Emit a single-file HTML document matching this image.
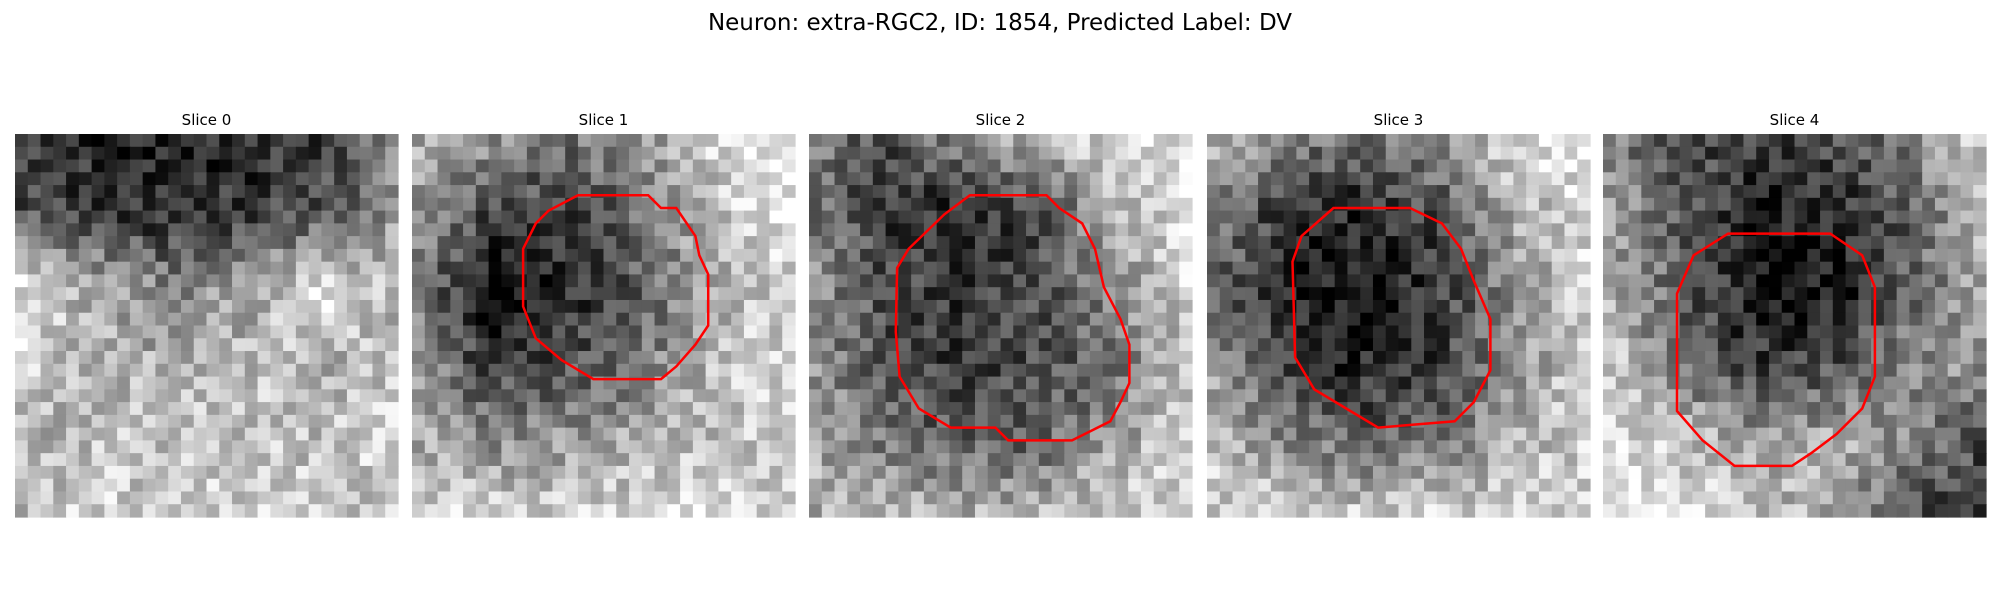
<!DOCTYPE html>
<html><head><meta charset="utf-8"><style>
html,body{margin:0;padding:0;background:#fff;width:2000px;height:600px;overflow:hidden}
svg{display:block}
text{font-family:"DejaVu Sans","Liberation Sans",sans-serif;fill:#000}
</style></head><body>
<svg id="fig" width="2000" height="600" viewBox="0 0 2000 600">
<text x="1000" y="30" text-anchor="middle" font-size="23">Neuron: extra-RGC2, ID: 1854, Predicted Label: DV</text>
</svg>
<script>
const sliceLabels=["Slice 0","Slice 1","Slice 2","Slice 3","Slice 4"];
const panelLeft=[15,412,809,1207,1603];
const coarse0=[[.3,.25,.25,.25,.3,.5],[.35,.3,.25,.3,.35,.55],[.75,.6,.5,.55,.75,.6],[.7,.6,.6,.65,.6,.65],[.6,.65,.65,.65,.65,.7],[.6,.7,.65,.7,.65,.65]];
const coarse1=[[.6,.55,.45,.55,.7,.75],[.55,.35,.3,.45,.65,.75],[.5,.2,.25,.4,.6,.7],[.55,.3,.35,.45,.65,.7],[.6,.5,.55,.6,.65,.7],[.7,.7,.7,.7,.7,.7]];
const coarse2=[[.5,.35,.5,.65,.7,.75],[.45,.3,.25,.35,.6,.75],[.55,.35,.3,.35,.5,.7],[.55,.35,.3,.35,.45,.65],[.6,.45,.4,.4,.55,.7],[.6,.65,.6,.65,.7,.7]];
const coarse3=[[.65,.5,.45,.55,.7,.75],[.5,.3,.25,.35,.6,.7],[.45,.25,.2,.3,.5,.7],[.55,.3,.25,.3,.5,.7],[.65,.5,.4,.45,.6,.7],[.7,.7,.7,.7,.7,.65]];
const coarse4=[[.5,.35,.3,.35,.5,.7],[.55,.4,.25,.25,.4,.65],[.6,.4,.2,.2,.4,.6],[.7,.45,.3,.35,.5,.55],[.75,.65,.55,.6,.5,.35],[.75,.75,.65,.6,.35,.25]];
const coarseMaps=[coarse0,coarse1,coarse2,coarse3,coarse4];
const contour1=[[453,153],[508,153],[518,163],[530,163],[545,185],[548,200],[555,215],[555,255],[545,270],[530,287],[518,297],[465,297],[440,282],[420,265],[410,240],[410,195],[420,175],[430,165]];
const contour2=[[760,153],[820,153],[830,163],[848,175],[858,195],[865,225],[878,250],[885,270],[885,300],[878,315],[870,330],[840,345],[790,345],[780,335],[745,335],[720,320],[705,295],[702,260],[703,210],[712,195],[740,168]];
const contour3=[[1045,163],[1105,163],[1130,175],[1145,195],[1155,220],[1168,250],[1168,290],[1155,315],[1140,330],[1080,335],[1055,320],[1030,305],[1015,280],[1013,205],[1020,185]];
const contour4=[[1355,183],[1435,183],[1460,200],[1470,225],[1470,295],[1460,320],[1440,340],[1420,355],[1405,365],[1360,365],[1335,345],[1315,322],[1315,230],[1328,200]];
const contours=[null,contour1,contour2,contour3,contour4];
const dispLeft=[12,323,634,946,1257];

const NS="http://www.w3.org/2000/svg";
const svg=document.getElementById('fig');
const PW=383, PT=134, N=30, cs=PW/N;
function hash(a,b,c){let h=(a*374761393+b*668265263+c*2147483647)>>>0;h=((h^(h>>>13))*1274126177)>>>0;return ((h^(h>>>16))>>>0)/4294967296;}
function sample(m,u,v){const x=u*5,y=v*5;const i=Math.min(4,Math.floor(x)),j=Math.min(4,Math.floor(y));const fx=x-i,fy=y-j;
return m[j][i]*(1-fx)*(1-fy)+m[j][i+1]*fx*(1-fy)+m[j+1][i]*(1-fx)*fy+m[j+1][i+1]*fx*fy;}
for(let p=0;p<5;p++){
  const g=document.createElementNS(NS,'g');
  
  
  svg.appendChild(g);
  const t=document.createElementNS(NS,'text');
  
  
  t.setAttribute('x',panelLeft[p]+PW/2);t.setAttribute('y',125);t.setAttribute('text-anchor','middle');t.setAttribute('font-size','15');
  t.textContent=sliceLabels[p];g.appendChild(t);
  for(let r=0;r<N;r++)for(let c=0;c<N;c++){
    let v=sample(coarseMaps[p],(c+0.5)/N,(r+0.5)/N);
    v=(v-0.48)*1.55+0.5+(hash(p+1,r,c)-0.5)*0.36;
    v=Math.max(0,Math.min(1,v));const k=Math.round(v*255);
    const rc=document.createElementNS(NS,'rect');
    
    
    rc.setAttribute('x',(panelLeft[p]+c*cs).toFixed(2));rc.setAttribute('y',(PT+r*cs).toFixed(2));
    rc.setAttribute('width',(cs+0.6).toFixed(2));rc.setAttribute('height',(cs+0.6).toFixed(2));
    rc.setAttribute('fill','rgb('+k+','+k+','+k+')');g.appendChild(rc);
  }
  if(contours[p]){
    const pts=contours[p].map(q=>((q[0]-dispLeft[p])/300*PW+panelLeft[p]).toFixed(1)+','+((q[1]-105)/300*PW+PT).toFixed(1)).join(' ');
    const pl=document.createElementNS(NS,'polygon');
    
    
    pl.setAttribute('points',pts);pl.setAttribute('fill','none');pl.setAttribute('stroke','#ff0000');pl.setAttribute('stroke-width','2.5');
    g.appendChild(pl);
  }
}
</script>
</body></html>
